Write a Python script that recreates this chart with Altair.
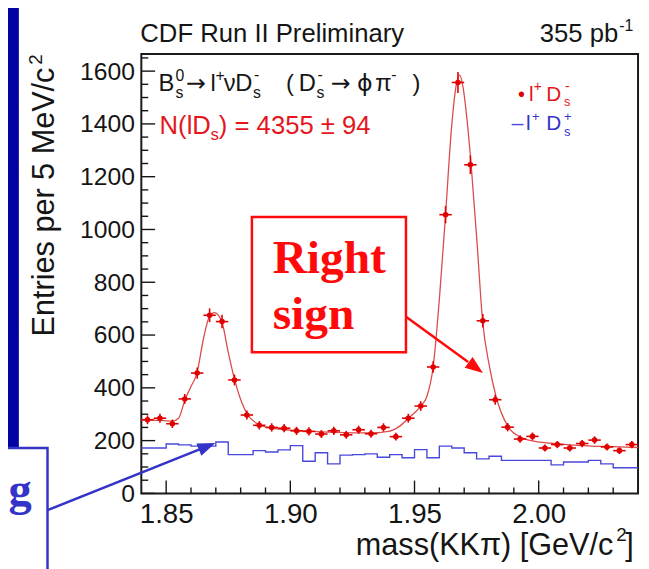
import altair as alt
import pandas as pd

# ---------------- data ----------------
mass_centers = [1.8425, 1.8475, 1.8525, 1.8575, 1.8625, 1.8675, 1.8725, 1.8775,
                1.8825, 1.8875, 1.8925, 1.8975, 1.9025, 1.9075, 1.9125, 1.9175,
                1.9225, 1.9275, 1.9325, 1.9375, 1.9425, 1.9475, 1.9525, 1.9575,
                1.9625, 1.9675, 1.9725, 1.9775, 1.9825, 1.9875, 1.9925, 1.9975,
                2.0025, 2.0075, 2.0125, 2.0175, 2.0225, 2.0275, 2.0325, 2.0375]
# right sign  l+ Ds-  (red points)
rs_counts = [279, 285, 264, 358, 456, 675, 651, 430, 297, 258, 250, 247, 237, 235,
             225, 237, 222, 241, 226, 250, 215, 285, 331, 479, 1056, 1557, 1245,
             654, 355, 251, 206, 216, 172, 185, 172, 189, 202, 176, 162, 185]
# wrong sign  l+ Ds+  (blue histogram)
ws_counts = [172, 172, 187, 184, 179, 179, 195, 147, 147, 162, 157, 165, 181, 122,
             154, 112, 145, 147, 150, 137, 147, 135, 166, 135, 179, 172, 154, 131,
             141, 125, 125, 125, 125, 108, 119, 119, 125, 112, 97, 97]
# fitted curve, points
fit_mass = [1.840, 1.845, 1.850, 1.8525, 1.855, 1.8576, 1.860, 1.8624, 1.865,
            1.8674, 1.8694, 1.8723, 1.875, 1.8776, 1.8803, 1.8827, 1.8867, 1.892,
            1.900, 1.905, 1.9185, 1.9317, 1.9396, 1.9436, 1.9476, 1.9525, 1.9549,
            1.9575, 1.9602, 1.9625, 1.9649, 1.9668, 1.9682, 1.9695, 1.9712, 1.9728,
            1.9752, 1.9774, 1.9801, 1.9827, 1.9876, 1.9927, 1.998, 2.005, 2.0112,
            2.020, 2.030, 2.040]
fit_counts = [280, 278, 275, 274, 285, 355, 405, 456, 585, 670, 685, 654, 535,
              430, 348, 300, 264, 248, 240, 237, 231, 229, 235, 252, 285, 331, 365,
              479, 760, 1056, 1385, 1547, 1585, 1541, 1410, 1245, 947, 654, 485,
              372, 254, 213, 198, 190, 185, 180, 177, 174]

x_major = [1.85, 1.90, 1.95, 2.00]
x_minor = [1.86, 1.87, 1.88, 1.89, 1.91, 1.92, 1.93, 1.94, 1.96, 1.97, 1.98,
           1.99, 2.01, 2.02, 2.03]
y_major = [0, 200, 400, 600, 800, 1000, 1200, 1400, 1600]
y_minor = [50, 100, 150, 250, 300, 350, 450, 500, 550, 650, 700, 750, 850, 900,
           950, 1050, 1100, 1150, 1250, 1300, 1350, 1450, 1500, 1550, 1650]

# ---------------- styling ----------------
HALF = 0.0025
W, H = 503, 445
SANS = "Liberation Sans"
SERIF = "Liberation Serif"
ARROWF = "DejaVu Sans"
RED = "#e4161c"
BLUE = "#4848dc"
ABLUE = "#3434c8"
INK = "#151515"

xs = alt.Scale(domain=[1.84, 2.04], nice=False, zero=False)
ys = alt.Scale(domain=[0, 1665], nice=False, zero=False)
xaxis = alt.Axis(values=x_major, format=".2f", labelFont=SANS, labelFontSize=28,
                 labelColor=INK, ticks=False, domain=False, grid=False,
                 labelPadding=7, labelFlush=False)
yaxis = alt.Axis(values=y_major, format="d", labelFont=SANS, labelFontSize=25,
                 labelColor=INK, ticks=False, domain=False, grid=False,
                 labelPadding=7)


def X(f):
    return alt.X(f, type="quantitative", scale=xs, axis=xaxis, title=None)


def Y(f):
    return alt.Y(f, type="quantitative", scale=ys, axis=yaxis, title=None)


one = pd.DataFrame({"k": [0]})
OX, OY = 143, 51   # page position of the plot origin


def txt(s, px, py, size, color=INK, font=SANS, weight="normal", align="left", angle=None):
    """text placed at page pixel position (px, py) -> plot-area coordinates"""
    kw = dict(align=align, baseline="alphabetic", font=font, fontSize=size,
              fontWeight=weight, color=color)
    if angle is not None:
        kw["angle"] = angle
    return alt.Chart(one).mark_text(**kw).encode(
        x=alt.value(px - OX), y=alt.value(py - OY), text=alt.value(s))


# ---------------- data layers ----------------
pts = pd.DataFrame({"m": mass_centers, "n": rs_counts})
pts["lo"] = pts["m"] - HALF
pts["hi"] = pts["m"] + HALF

hist = pd.DataFrame({"m": [c - HALF for c in mass_centers] + [mass_centers[-1] + HALF],
                     "n": ws_counts + [ws_counts[-1]]})
fit = pd.DataFrame({"m": fit_mass, "n": fit_counts})

hist_layer = alt.Chart(hist).mark_line(interpolate="step-after", color=BLUE,
                                        strokeWidth=1.4).encode(x=X("m"), y=Y("n"))
fit_layer = alt.Chart(fit).mark_line(interpolate="monotone", color="#dc4a4a",
                                      strokeWidth=1.3).encode(x=X("m"), y=Y("n"))
herr = alt.Chart(pts).mark_rule(color="#e00000", strokeWidth=1.6).encode(
    x=X("lo"), x2="hi", y=Y("n"))
verr = alt.Chart(pts).transform_calculate(
    elo="datum.n - sqrt(datum.n)", ehi="datum.n + sqrt(datum.n)"
).mark_rule(color="#e00000", strokeWidth=1.6).encode(x=X("m"), y=Y("elo"), y2="ehi")
dots = alt.Chart(pts).mark_circle(color="#e00000", size=32, opacity=1).encode(
    x=X("m"), y=Y("n"))

# ---------------- frame ticks (inside, ROOT style) ----------------
ytick_maj = alt.Chart(pd.DataFrame({"v": y_major})).mark_rule(color=INK, strokeWidth=1.4).encode(
    y=Y("v"), x=alt.value(0), x2=alt.value(14))
ytick_min = alt.Chart(pd.DataFrame({"v": y_minor})).mark_rule(color=INK, strokeWidth=1.4).encode(
    y=Y("v"), x=alt.value(0), x2=alt.value(7))
xtick_maj = alt.Chart(pd.DataFrame({"v": x_major})).mark_rule(color=INK, strokeWidth=1.4).encode(
    x=X("v"), y=alt.value(H), y2=alt.value(H - 13))
xtick_min = alt.Chart(pd.DataFrame({"v": x_minor})).mark_rule(color=INK, strokeWidth=1.4).encode(
    x=X("v"), y=alt.value(H), y2=alt.value(H - 6))

# ---------------- annotations (in data units) ----------------
HEAD = "M0,0L0.75,2L-0.75,2Z"

strip = alt.Chart(one).mark_rect(color="#0202a4").encode(
    x=alt.value(-160), x2=alt.value(-124), y=alt.value(-60), y2=alt.value(399))

gbox = alt.Chart(pd.DataFrame({"x": [1.77917], "x2": [1.80223], "y": [172.1], "y2": [-333.0]})
                 ).mark_rect(fill="white", stroke=ABLUE, strokeWidth=2.5).encode(
    x=X("x"), x2="x2", y=Y("y"), y2="y2")
gtext = alt.Chart(pd.DataFrame({"x": [1.79586], "y": [-44.9]})).mark_text(
    text="g", align="right", baseline="alphabetic", font=SERIF, fontWeight="bold",
    fontSize=47, color=ABLUE).encode(x=X("x"), y=Y("y"))
blue_arrow = alt.Chart(pd.DataFrame({"x": [1.80223], "y": [-63.6], "x2": [1.86346], "y2": [166.9]})
                       ).mark_rule(color=ABLUE, strokeWidth=2.5).encode(
    x=X("x"), x2="x2", y=Y("y"), y2="y2")
blue_head = alt.Chart(pd.DataFrame({"x": [1.86982], "y": [190.8]})).mark_point(
    shape=HEAD, filled=True, size=324, angle=68.2, color=ABLUE, opacity=1,
    strokeWidth=0).encode(x=X("x"), y=Y("y"))

rbox = alt.Chart(pd.DataFrame({"x": [1.88453], "x2": [1.94656], "y": [1047.6], "y2": [535.0]})
                 ).mark_rect(fill="white", stroke="#ff0a0a", strokeWidth=2.5).encode(
    x=X("x"), x2="x2", y=Y("y"), y2="y2")
rtext = alt.Chart(pd.DataFrame({"x": [1.89288, 1.89288], "y": [834.4, 621.1],
                                "t": ["Right", "sign"]})).mark_text(
    align="left", baseline="alphabetic", font=SERIF, fontWeight="bold",
    fontSize=48, color="#ff0a0a").encode(x=X("x"), y=Y("y"), text="t:N")
red_arrow = alt.Chart(pd.DataFrame({"x": [1.94656], "y": [669.7], "x2": [1.97161], "y2": [497.6]})
                      ).mark_rule(color="#ff0a0a", strokeWidth=2.5).encode(
    x=X("x"), x2="x2", y=Y("y"), y2="y2")
red_head = alt.Chart(pd.DataFrame({"x": [1.97757], "y": [456.5]})).mark_point(
    shape=HEAD, filled=True, size=324, angle=126.2, color="#ff0a0a", opacity=1,
    strokeWidth=0).encode(x=X("x"), y=Y("y"))

# ---------------- texts (page pixel positions) ----------------
L1, L1SUP, L1SUB = 88.5, 78.5, 95.5
L2, L2SUB = 132, 138.5
F1, FS = 24, 16
texts = [
    txt("CDF Run II Preliminary", 142, 39, 26),
    txt("355 pb", 626, 39, 26, align="right"),
    txt("-1", 627, 28, 16),
    # formula line 1
    txt("B", 160.5, L1, F1),
    txt("0", 177.5, L1SUP, FS),
    txt("s", 177.5, L1SUB, FS),
    txt("\u2192", 188, L1, F1, font=ARROWF),
    txt("l", 213, L1, F1),
    txt("+", 218, L1SUP, FS),
    txt("\u03bd", 226.5, L1, F1),
    txt("D", 238, L1, F1),
    txt("s", 256, L1SUB, FS),
    txt("-", 257, L1SUP - 1, FS),
    txt("(", 289.5, L1, F1),
    txt("D", 302.5, L1, F1),
    txt("s", 320.5, L1SUB, FS),
    txt("-", 321.5, L1SUP - 1, FS),
    txt("\u2192", 334.5, L1, F1, font=ARROWF),
    txt("\u03d5", 361.5, L1, F1, font=ARROWF),
    txt("\u03c0", 380, L1, F1),
    txt("-", 396, L1SUP - 1, FS),
    txt(")", 417.5, L1, F1),
    # formula line 2
    txt("N(lD", 161.5, L2, 26, color=RED),
    txt("s", 213, L2SUB, 17, color=RED),
    txt(") = 4355 \u00b1 94", 221.5, L2, 26, color=RED),
    # legend
    txt("\u2022", 524.5, 99, 20, color="#e00000"),
    txt("l", 535.5, 99, 21, color=RED),
    txt("+", 540.5, 89, 14, color=RED),
    txt("D", 553, 99, 21, color=RED),
    txt("s", 571, 103.5, 13, color=RED),
    txt("-", 572, 88, 14, color=RED),
    txt("l", 532.5, 128.5, 21, color=ABLUE),
    txt("+", 538.5, 118.5, 13, color=ABLUE),
    txt("D", 553, 128.5, 21, color=ABLUE),
    txt("s", 571, 134.5, 13, color=ABLUE),
    txt("+", 571, 118.5, 13, color=ABLUE),
    # axis titles
    txt("mass(KK\u03c0) [GeV/c", 621, 558, 31, align="right"),
    txt("2", 624, 544, 19),
    txt("]", 633, 558, 31),
    txt("Entries per 5 MeV/c", 55, 337, 31, angle=270),
    txt("2", 42, 62, 19, angle=270),
]
leg_dash = alt.Chart(one).mark_rule(color=BLUE, strokeWidth=1.4).encode(
    x=alt.value(518 - OX), x2=alt.value(530 - OX), y=alt.value(122.5 - OY))

layers = [strip, gbox, gtext, hist_layer, fit_layer, herr, verr, dots,
          ytick_maj, ytick_min, xtick_maj, xtick_min,
          rbox, rtext, red_arrow, red_head, blue_arrow, blue_head, leg_dash] + texts

chart = alt.layer(*layers).properties(
    width=W, height=H,
    autosize=alt.AutoSizeParams(type="none"),
    padding={"left": 135, "top": 43, "right": 3, "bottom": 73},
).configure(background="white").configure_view(stroke="#1a1a1a", strokeWidth=2)

chart.save("out.html", embed_options={"renderer": "svg", "actions": False})
